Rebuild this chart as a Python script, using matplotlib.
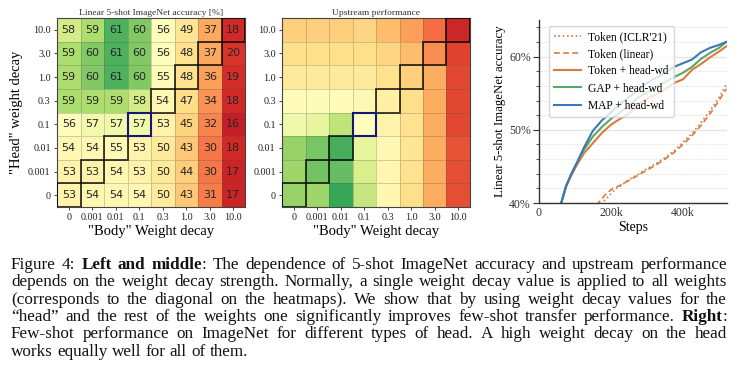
import numpy as np
import matplotlib
matplotlib.use("Agg")
import matplotlib.pyplot as plt
from matplotlib.colors import TwoSlopeNorm, Normalize
from matplotlib.patches import Rectangle
from matplotlib.ticker import MultipleLocator, FuncFormatter

# heatmap axes
body_wd = ["0", "0.001", "0.01", "0.1", "0.3", "1.0", "3.0", "10.0"]
head_wd = ["10.0", "3.0", "1.0", "0.3", "0.1", "0.01", "0.001", "0"]

# linear 5-shot ImageNet accuracy [%], rows = head wd (top to bottom), cols = body wd
fewshot_acc = np.array([
    [58, 59, 61, 60, 56, 49, 37, 18],
    [59, 60, 61, 60, 56, 48, 37, 20],
    [59, 60, 61, 60, 55, 48, 36, 19],
    [59, 59, 59, 58, 54, 47, 34, 18],
    [56, 57, 57, 57, 53, 45, 32, 16],
    [54, 54, 55, 53, 50, 43, 30, 18],
    [53, 53, 54, 53, 50, 44, 30, 17],
    [53, 54, 54, 54, 50, 43, 31, 17],
])

# upstream performance (relative score)
upstream_perf = np.array([
    [0.37, 0.37, 0.37, 0.38, 0.33, 0.28, 0.20, 0.08],
    [0.40, 0.40, 0.40, 0.40, 0.38, 0.33, 0.25, 0.13],
    [0.43, 0.43, 0.43, 0.43, 0.41, 0.37, 0.30, 0.14],
    [0.49, 0.49, 0.49, 0.48, 0.45, 0.40, 0.30, 0.14],
    [0.54, 0.56, 0.65, 0.50, 0.46, 0.41, 0.30, 0.14],
    [0.72, 0.77, 0.84, 0.56, 0.48, 0.42, 0.30, 0.16],
    [0.71, 0.78, 0.80, 0.60, 0.47, 0.41, 0.30, 0.15],
    [0.72, 0.71, 0.86, 0.64, 0.47, 0.40, 0.30, 0.15],
])

# few-shot curves
steps_wd = [50e3, 65e3, 75e3, 90e3, 105e3, 125e3, 150e3, 175e3, 200e3, 225e3, 250e3,
            275e3, 300e3, 325e3, 350e3, 375e3, 400e3, 425e3, 450e3, 475e3, 500e3, 520e3]
map_head_wd = [38.0, 40.6, 42.3, 44.0, 45.5, 47.6, 49.9, 51.3, 52.4, 53.5, 54.5,
               55.4, 56.4, 57.1, 57.8, 58.6, 59.1, 59.6, 60.6, 61.2, 61.6, 62.0]
gap_head_wd = [38.0, 40.6, 42.3, 44.0, 45.4, 47.3, 49.1, 50.4, 51.5, 52.4, 53.3,
               54.4, 55.1, 55.8, 56.5, 57.2, 57.8, 58.6, 59.7, 60.5, 61.2, 62.0]
token_head_wd = [38.0, 40.5, 42.2, 43.8, 45.2, 46.8, 48.2, 49.6, 50.7, 51.5, 52.2,
                 53.5, 54.3, 54.8, 55.5, 56.4, 56.9, 58.2, 59.0, 59.9, 60.7, 61.4]

steps_linear = [150e3, 165e3, 185e3, 205e3, 225e3, 250e3, 275e3, 300e3, 325e3, 350e3,
                375e3, 400e3, 425e3, 450e3, 475e3, 500e3, 520e3]
token_linear = [38.5, 40.0, 41.2, 42.0, 42.4, 43.1, 43.8, 44.5, 45.2, 46.0,
                46.9, 48.0, 49.2, 50.6, 52.2, 54.0, 55.6]
steps_iclr = [160e3, 175e3, 195e3, 212e3, 225e3, 250e3, 275e3, 300e3, 325e3, 350e3,
              375e3, 400e3, 425e3, 450e3, 475e3, 500e3, 520e3]
token_iclr = [38.8, 40.0, 41.0, 41.9, 42.3, 43.2, 43.9, 44.7, 45.4, 46.2,
              47.1, 48.3, 49.5, 51.0, 52.6, 54.4, 56.2]

caption = [
    "Figure 4: *Left* *and* *middle*: The dependence of 5-shot ImageNet accuracy and upstream performance",
    "depends on the weight decay strength. Normally, a single weight decay value is applied to all weights",
    "(corresponds to the diagonal on the heatmaps). We show that by using weight decay values for the",
    "\u201chead\u201d and the rest of the weights one significantly improves few-shot transfer performance. *Right*:",
    "Few-shot performance on ImageNet for different types of head. A high weight decay on the head",
    "works equally well for all of them.",
]

plt.rcParams["font.family"] = ["Liberation Serif", "DejaVu Serif"]
W, H = 743, 381
fig = plt.figure(figsize=(W / 100, H / 100), dpi=100)


def heatmap(ax, data, norm, title, annotate):
    ax.pcolormesh(data, cmap="RdYlGn", norm=norm,
                  edgecolors=(0.3, 0.3, 0.3, 0.25), linewidth=0.7)
    ax.set_xlim(0, 8)
    ax.set_ylim(8, 0)
    ax.set_xticks(np.arange(8) + 0.5)
    ax.set_xticklabels(body_wd)
    ax.set_yticks(np.arange(8) + 0.5)
    ax.set_yticklabels(head_wd)
    ax.tick_params(labelsize=7.3, length=2.5, width=0.6, pad=2, colors="#222222")
    for s in ax.spines.values():
        s.set_color("#444444")
        s.set_linewidth(0.8)
    ax.set_title(title, fontsize=6.8, pad=2.5, color="#333333")
    ax.set_xlabel('"Body" Weight decay', fontsize=10.5, labelpad=2)
    if annotate:
        for i in range(8):
            for j in range(8):
                ax.text(j + 0.5, i + 0.5, f"{data[i, j]:.0f}", ha="center", va="center",
                        fontsize=8, family="DejaVu Sans", color="#262626")
    # outline the diagonal (same wd for head and body)
    for j, b in enumerate(body_wd):
        i = head_wd.index(b)
        if b == "0.1":
            ax.add_patch(Rectangle((j, i), 1, 1, fill=False, ec="#14147a", lw=1.5, zorder=5))
        else:
            ax.add_patch(Rectangle((j, i), 1, 1, fill=False, ec=(0, 0, 0, 0.8), lw=1.3, zorder=4))


ax1 = fig.add_axes([57 / W, 1 - 207 / H, 188 / W, 189 / H])
heatmap(ax1, fewshot_acc, TwoSlopeNorm(vcenter=56.5, vmin=10, vmax=63.3),
        "Linear 5-shot ImageNet accuracy [%]", True)
ax1.set_ylabel('"Head" weight decay', fontsize=10.5, labelpad=4)

ax2 = fig.add_axes([282 / W, 1 - 207 / H, 188 / W, 189 / H])
heatmap(ax2, upstream_perf, Normalize(0, 1), "Upstream performance", False)

# right: few-shot curves
orange, green, blue = "#d97a40", "#55a868", "#3f77b7"
ax3 = fig.add_axes([539 / W, 1 - 203 / H, 188 / W, 183 / H])
ax3.plot(steps_iclr, token_iclr, ls=(0, (1, 1.6)), color=orange, lw=1.2, label="Token (ICLR'21)")
ax3.plot(steps_linear, token_linear, ls=(0, (3.5, 2)), color=orange, lw=1.2, label="Token (linear)")
ax3.plot(steps_wd, token_head_wd, color=orange, lw=1.5, label="Token + head-wd")
ax3.plot(steps_wd, gap_head_wd, color=green, lw=1.5, label="GAP + head-wd")
ax3.plot(steps_wd, map_head_wd, color=blue, lw=1.5, label="MAP + head-wd")
ax3.set_xlim(0, 522e3)
ax3.set_ylim(40, 65)
ax3.yaxis.set_major_locator(MultipleLocator(10))
ax3.yaxis.set_minor_locator(MultipleLocator(2))
ax3.yaxis.set_major_formatter(FuncFormatter(lambda v, p: f"{v:.0f}%"))
ax3.set_xticks([0, 200e3, 400e3])
ax3.set_xticklabels(["0", "200k", "400k"])
ax3.grid(True, axis="y", which="major", color="#e2e2e2", lw=0.9)
ax3.grid(True, axis="y", which="minor", color="#e6e6e6", lw=0.6, ls="--")
ax3.set_axisbelow(True)
for s in ["top", "right"]:
    ax3.spines[s].set_visible(False)
for s in ["left", "bottom"]:
    ax3.spines[s].set_color("#333333")
    ax3.spines[s].set_linewidth(1.0)
ax3.tick_params(axis="y", which="major", length=4, width=0.8, labelsize=8.5, pad=2, colors="#333333")
ax3.tick_params(axis="y", which="minor", length=2.5, width=0.6, colors="#333333")
ax3.tick_params(axis="x", length=0, labelsize=8.5, pad=3, colors="#333333")
ax3.set_xlabel("Steps", fontsize=10, labelpad=1)
ax3.set_ylabel("Linear 5-shot ImageNet accuracy", fontsize=9.3, labelpad=2)
ax3.legend(loc="upper left", fontsize=8.3, handlelength=2.4, borderpad=0.45,
           labelspacing=0.45, handletextpad=0.6, frameon=True, edgecolor="#cccccc",
           framealpha=0.8, bbox_to_anchor=(0.02, 1.0))

# caption, justified line by line
fig.canvas.draw()
r = fig.canvas.get_renderer()
x0, x1 = 11, 727
base0, dy = 269, 17.3


def word_parts(w):
    parts = w.split("*")
    return [(p, k % 2 == 1) for k, p in enumerate(parts) if p]


def build_line(line, y, size):
    words = []
    for w in line.split(" "):
        texts = []
        for p, bold in word_parts(w):
            t = fig.text(0, y, p, fontsize=size, fontweight="bold" if bold else "normal",
                         va="baseline", ha="left", color="#111111")
            texts.append((t, t.get_window_extent(r).width))
        words.append(texts)
    return words


def space_width(size):
    a = fig.text(0, 0, "x x", fontsize=size)
    b = fig.text(0, 0, "xx", fontsize=size)
    sw = a.get_window_extent(r).width - b.get_window_extent(r).width
    a.remove()
    b.remove()
    return sw


# pick a font size so the widest line roughly fills the text width
size = 11.0
natural = []
for line in caption[:-1]:
    ws = build_line(line, 0, size)
    natural.append(sum(wd for part in ws for _, wd in part) + (len(ws) - 1) * space_width(size))
    for part in ws:
        for t, _ in part:
            t.remove()
size = size * (x1 - x0) / max(natural) * 0.97
space_w = space_width(size)

for k, line in enumerate(caption):
    y = 1 - (base0 + k * dy) / H
    words = build_line(line, y, size)
    widths = [sum(wd for _, wd in ws) for ws in words]
    if k < len(caption) - 1:
        gap = (x1 - x0 - sum(widths)) / (len(words) - 1)
    else:
        gap = space_w
    x = x0
    for ws, wtot in zip(words, widths):
        xx = x
        for t, wd in ws:
            t.set_x(xx / W)
            xx += wd
        x += wtot + gap

fig.savefig("out.png", dpi=100)
